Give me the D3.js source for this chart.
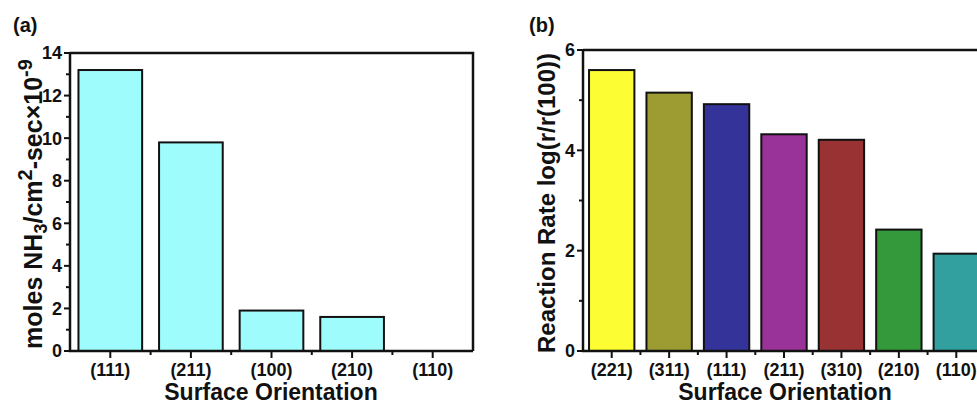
<!DOCTYPE html>
<html>
<head>
<meta charset="utf-8">
<script src="https://cdn.jsdelivr.net/npm/d3@7"></script>
<style>
  html, body { margin: 0; padding: 0; background: #fff; overflow: hidden; }
  svg { display: block; font-family: "Liberation Sans", Arial, sans-serif; font-weight: bold; }
</style>
</head>
<body>
<svg id="chart" width="977" height="405"></svg>
<script>
// Panel (a): NH3 synthesis rate by surface orientation
const catsA = ["(111)", "(211)", "(100)", "(210)", "(110)"];
const valsA = [13.2, 9.8, 1.9, 1.6, 0];
const ticksA = [0, 2, 4, 6, 8, 10, 12, 14];
const minorA = [1, 3, 5, 7, 9, 11, 13];
const colorsA = ["#9ffcfc", "#9ffcfc", "#9ffcfc", "#9ffcfc", "#9ffcfc"];

// Panel (b): relative reaction rate, log scale vs (100)
const catsB = ["(221)", "(311)", "(111)", "(211)", "(310)", "(210)", "(110)"];
const valsB = [5.6, 5.15, 4.92, 4.32, 4.21, 2.42, 1.94];
const ticksB = [0, 2, 4, 6];
const minorB = [1, 3, 5];
const colorsB = ["#fdfd33", "#9c9c33", "#33339a", "#9a3399", "#993333", "#33993a", "#33a0a0"];

const svg = d3.select("#chart");

function drawPanel(opt) {
  const g = svg.append("g");
  const x = d3.scaleBand()
    .domain(opt.cats)
    .range([opt.left, opt.right])
    .paddingInner(0.21)
    .paddingOuter(0.105);
  const y = d3.scaleLinear()
    .domain([0, opt.ymax])
    .range([opt.bottom, opt.top]);

  // bars
  g.selectAll("rect.bar")
    .data(opt.cats.map((c, i) => ({ c, v: opt.vals[i], col: opt.colors[i] })))
    .join("rect")
    .attr("class", "bar")
    .attr("x", d => x(d.c))
    .attr("width", x.bandwidth())
    .attr("y", d => y(d.v))
    .attr("height", d => y(0) - y(d.v))
    .attr("fill", d => d.col)
    .attr("stroke", d => d.v > 0 ? "#111" : "none")
    .attr("stroke-width", 2);

  // frame: left, bottom, top, right
  const frame = g.append("g").attr("stroke", "#111").attr("stroke-width", 2.5).attr("fill", "none");
  frame.append("path").attr("d", `M${opt.left},${opt.top}V${opt.bottom}H${opt.right}`);
  frame.append("path").attr("d", `M${opt.left},${opt.top}H${opt.right}V${opt.bottom}`);

  // y ticks
  const yt = g.append("g");
  yt.selectAll("line.maj").data(opt.ticks).join("line")
    .attr("x1", opt.left - 6).attr("x2", opt.left)
    .attr("y1", d => y(d)).attr("y2", d => y(d))
    .attr("stroke", "#111").attr("stroke-width", 2);
  yt.selectAll("line.min").data(opt.minor).join("line")
    .attr("x1", opt.left - 4).attr("x2", opt.left)
    .attr("y1", d => y(d)).attr("y2", d => y(d))
    .attr("stroke", "#111").attr("stroke-width", 2);
  yt.selectAll("text").data(opt.ticks).join("text")
    .attr("x", opt.left - 8).attr("y", d => y(d))
    .attr("dy", "0.36em")
    .attr("text-anchor", "end")
    .attr("font-size", 18)
    .attr("fill", "#111")
    .text(d => d);

  // x ticks: major at category centres, minor at category boundaries
  const xt = g.append("g");
  const centres = opt.cats.map(c => x(c) + x.bandwidth() / 2);
  const bounds = opt.cats.slice(1).map(c => x(c) - x.step() * x.paddingInner() / 2);
  xt.selectAll("line.maj").data(centres).join("line")
    .attr("x1", d => d).attr("x2", d => d)
    .attr("y1", opt.bottom).attr("y2", opt.bottom + 7)
    .attr("stroke", "#111").attr("stroke-width", 2);
  xt.selectAll("line.min").data(bounds).join("line")
    .attr("x1", d => d).attr("x2", d => d)
    .attr("y1", opt.bottom).attr("y2", opt.bottom + 4)
    .attr("stroke", "#111").attr("stroke-width", 2);
  xt.selectAll("text").data(opt.cats).join("text")
    .attr("x", d => x(d) + x.bandwidth() / 2)
    .attr("y", opt.bottom + 25)
    .attr("text-anchor", "middle")
    .attr("font-size", 18)
    .attr("fill", "#111")
    .text(d => d);

  // x axis title
  g.append("text")
    .attr("x", opt.titleX)
    .attr("y", opt.bottom + 49)
    .attr("text-anchor", "middle")
    .attr("font-size", 23)
    .attr("fill", "#111")
    .text("Surface Orientation");

  // panel label
  g.append("text")
    .attr("x", opt.labelX).attr("y", 32)
    .attr("font-size", 20)
    .attr("fill", "#111")
    .text(opt.label);

  // y axis title
  const yl = g.append("text")
    .attr("transform", `translate(${opt.ytitleX},${opt.ytitleY}) rotate(-90)`)
    .attr("text-anchor", "middle")
    .attr("font-size", opt.ytitleSize)
    .attr("fill", "#111");
  opt.ytitle(yl);
  return { x, y };
}

drawPanel({
  cats: catsA, vals: valsA, colors: colorsA, ticks: ticksA, minor: minorA,
  ymax: 14, left: 70, right: 473, top: 53, bottom: 351,
  titleX: 271, label: "(a)", labelX: 13,
  ytitleX: 42, ytitleY: 204, ytitleSize: 25,
  ytitle: t => {
    t.append("tspan").text("moles NH");
    t.append("tspan").attr("font-size", 18).attr("dy", 5).text("3");
    t.append("tspan").attr("dy", -5).text("/cm");
    t.append("tspan").attr("font-size", 20).attr("dy", -10).text("2");
    t.append("tspan").attr("dy", 10).text("-sec\u00d710");
    t.append("tspan").attr("font-size", 20).attr("dy", -10).text("-9");
  }
});

drawPanel({
  cats: catsB, vals: valsB, colors: colorsB, ticks: ticksB, minor: minorB,
  ymax: 6, left: 583, right: 985, top: 50, bottom: 351,
  titleX: 785, label: "(b)", labelX: 529,
  ytitleX: 555, ytitleY: 203, ytitleSize: 24,
  ytitle: t => {
    t.text("Reaction Rate log(r/r(100))");
  }
});
</script>
</body>
</html>
